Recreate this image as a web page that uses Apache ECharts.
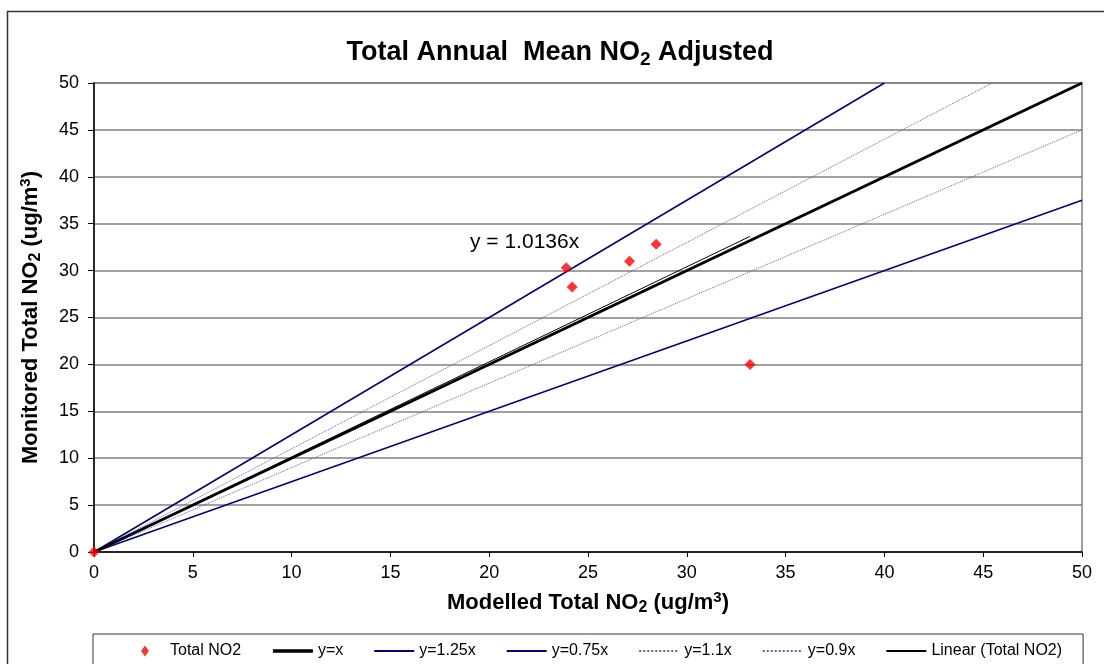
<!DOCTYPE html>
<html>
<head>
<meta charset="utf-8">
<script src="https://cdn.jsdelivr.net/npm/echarts@6/dist/echarts.min.js"></script>
<style>html,body{margin:0;padding:0;background:#fff}#c{width:1104px;height:664px}</style>
</head>
<body>
<div id="c"></div>
<script>
// Data
var modelled = [0, 23.9, 24.2, 27.1, 28.45, 33.2];
var monitored = [0, 30.3, 28.25, 31.0, 32.8, 20.0];
var lineYx = [[0, 0], [50, 50]];
var line125 = [[0, 0], [40, 50]];
var line075 = [[0, 0], [50, 37.5]];
var line110 = [[0, 0], [45.45, 50]];
var line090 = [[0, 0], [50, 45]];
var trendLine = [[0, 0], [33.2, 33.65]];
var axisTicks = [0, 5, 10, 15, 20, 25, 30, 35, 40, 45, 50];
var equationText = 'y = 1.0136x';

var pts = modelled.map(function (x, i) { return [x, monitored[i]]; });
var font = 'Liberation Sans, Arial, sans-serif';
var chart = echarts.init(document.getElementById('c'));
var navy = '#000080', dot = '#5c5cc8';
function lineSeries(name, data, color, width, type, z) {
  return { name: name, type: 'line', data: data, symbol: 'none', showSymbol: false,
    lineStyle: { color: color, width: width, type: type }, itemStyle: { color: color },
    z: z, silent: true, animation: false };
}
function lineLegend(name, w) {
  var o = { name: name, itemStyle: { opacity: 0 } };
  if (w) o.lineStyle = { width: w };
  return o;
}
var axisNameStyle = { fontFamily: font, fontSize: 22, fontWeight: 'bold', color: '#000',
  rich: { sub: { fontFamily: font, fontSize: 16, fontWeight: 'bold', padding: [11, 0, 0, 0] },
          sup: { fontFamily: font, fontSize: 15, fontWeight: 'bold', padding: [0, 0, 9, 0] } } };
chart.setOption({
  animation: false,
  title: {
    text: 'Total Annual  Mean NO{sub|2} Adjusted',
    left: 555, top: 32, textAlign: 'center',
    textStyle: { fontFamily: font, fontSize: 27, fontWeight: 'bold', color: '#000',
      rich: { sub: { fontFamily: font, fontSize: 19, fontWeight: 'bold', padding: [13, 0, 0, 0] } } }
  },
  graphic: [
    { type: 'rect', shape: { x: 7.5, y: 11.5, width: 1200, height: 700 },
      style: { fill: 'none', stroke: '#333', lineWidth: 1.5 }, z: -1 },
    { type: 'text', left: 470, top: 232,
      style: { text: equationText, font: '21px ' + font, fill: '#000' } }
  ],
  grid: { left: 94, right: 22, top: 83, bottom: 112, show: true, borderColor: '#808080', borderWidth: 1.5 },
  xAxis: {
    type: 'value', min: 0, max: 50, interval: 5,
    name: 'Modelled Total NO{sub|2} (ug/m{sup|3})', nameLocation: 'middle', nameGap: 37,
    nameTextStyle: axisNameStyle,
    axisLine: { lineStyle: { color: '#000', width: 1.5 } },
    axisTick: { show: true, length: 5, lineStyle: { color: '#000' } },
    axisLabel: { fontFamily: font, fontSize: 18, color: '#000', margin: 12,
      formatter: function (v) { return axisTicks.indexOf(v) >= 0 ? String(v) : ''; } },
    splitLine: { show: false }
  },
  yAxis: {
    type: 'value', min: 0, max: 50, interval: 5,
    name: 'Monitored Total NO{sub|2} (ug/m{sup|3})', nameLocation: 'middle', nameGap: 50, nameRotate: 90,
    nameTextStyle: axisNameStyle,
    axisLine: { show: true, lineStyle: { color: '#000', width: 1.5 } },
    axisTick: { show: true, length: 6, lineStyle: { color: '#000' } },
    axisLabel: { fontFamily: font, fontSize: 18, color: '#000', margin: 15,
      formatter: function (v) { return axisTicks.indexOf(v) >= 0 ? String(v) : ''; } },
    splitLine: { show: true, lineStyle: { color: '#808080', width: 1.5 } }
  },
  legend: {
    left: 93, top: 634,
    padding: [9, 21, 30, 32], itemGap: 30, itemWidth: 40, itemHeight: 12,
    borderColor: '#333', borderWidth: 1,
    textStyle: { fontFamily: font, fontSize: 16, color: '#000' },
    data: [
      { name: 'Total NO2', icon: 'path://M20,0.5L24,6L20,11.5L16,6Z M0,6L40,6' },
      lineLegend('y=x', 3.5), lineLegend('y=1.25x', 2), lineLegend('y=0.75x', 2),
      lineLegend('y=1.1x'), lineLegend('y=0.9x'), lineLegend('Linear (Total NO2)', 2)
    ]
  },
  series: [
    lineSeries('y=x', lineYx, '#000', 3, 'solid', 3),
    lineSeries('y=1.25x', line125, navy, 1.5, 'solid', 2),
    lineSeries('y=0.75x', line075, navy, 1.5, 'solid', 2),
    lineSeries('y=1.1x', line110, dot, 1, 'dotted', 2),
    lineSeries('y=0.9x', line090, dot, 1, 'dotted', 2),
    lineSeries('Linear (Total NO2)', trendLine, '#000', 1, 'solid', 4),
    { name: 'Total NO2', type: 'scatter', data: pts, symbol: 'diamond', symbolSize: 11,
      itemStyle: { color: '#ff0000' }, z: 10 }
  ]
});
</script>
</body>
</html>
